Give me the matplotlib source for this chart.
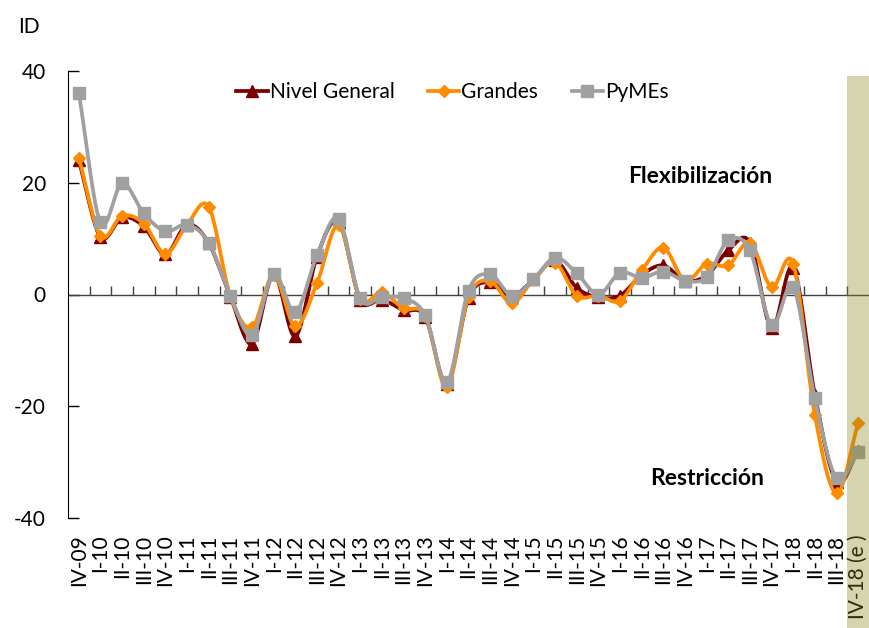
import numpy as np
import matplotlib
matplotlib.use("Agg")
import matplotlib.pyplot as plt
from matplotlib.patches import Rectangle
from matplotlib.transforms import blended_transform_factory
from matplotlib.lines import Line2D

plt.rcParams['font.family'] = ['Lato', 'DejaVu Sans']

categories = ["IV-09", "I-10", "II-10", "III-10", "IV-10", "I-11", "II-11", "III-11", "IV-11",
              "I-12", "II-12", "III-12", "IV-12", "I-13", "II-13", "III-13", "IV-13",
              "I-14", "II-14", "III-14", "IV-14", "I-15", "II-15", "III-15", "IV-15",
              "I-16", "II-16", "III-16", "IV-16", "I-17", "II-17", "III-17", "IV-17",
              "I-18", "II-18", "III-18", "IV-18 (e )"]

nivel_general = [24.0, 10.3, 13.8, 12.2, 7.2, 12.5, 9.2, -0.4, -8.8,
                 3.6, -7.5, 6.8, 13.0, -0.9, -0.9, -2.8, -4.0,
                 -16.0, -0.6, 2.2, -0.3, 2.7, 6.1, 1.2, -0.5,
                 -0.2, 3.5, 5.2, 2.5, 3.4, 7.9, 9.3, -6.0,
                 4.8, -18.0, -33.5, -28.0]

grandes = [24.5, 10.5, 14.1, 12.7, 7.3, 12.5, 15.7, -0.3, -5.9,
           3.5, -5.7, 2.0, 12.4, -0.8, 0.4, -2.5, -3.8,
           -16.6, -0.4, 2.4, -1.6, 2.7, 5.7, -0.2, -0.2,
           -1.1, 4.3, 8.4, 2.5, 5.5, 5.2, 9.3, 1.3,
           5.5, -21.6, -35.6, -23.0]

pymes = [36.0, 12.9, 19.9, 14.5, 11.3, 12.5, 9.3, -0.2, -7.3,
         3.7, -3.2, 7.0, 13.6, -0.7, -0.5, -0.7, -3.7,
         -15.7, 0.7, 3.6, -0.2, 2.7, 6.6, 3.8, 0.0,
         3.9, 3.0, 4.1, 2.5, 3.1, 9.7, 7.9, -5.5,
         1.3, -18.6, -32.9, -28.2]

yticks = [-40, -20, 0, 20, 40]


def smooth(y, per=20):
    y = np.asarray(y, dtype=float)
    n = len(y)
    xs, ys = [], []
    for i in range(n - 1):
        p0 = y[i - 1] if i > 0 else y[i]
        p1, p2 = y[i], y[i + 1]
        p3 = y[i + 2] if i + 2 < n else y[i + 1]
        m1 = (p2 - p0) / 2.0 if i > 0 else (p2 - p1)
        m2 = (p3 - p1) / 2.0 if i + 2 < n else (p2 - p1)
        t = np.linspace(0, 1, per, endpoint=False)
        h00 = 2 * t**3 - 3 * t**2 + 1
        h10 = t**3 - 2 * t**2 + t
        h01 = -2 * t**3 + 3 * t**2
        h11 = t**3 - t**2
        xs.append(i + t)
        ys.append(h00 * p1 + h10 * m1 + h01 * p2 + h11 * m2)
    xs.append([n - 1])
    ys.append([y[-1]])
    return np.concatenate(xs), np.concatenate(ys)


fig = plt.figure(figsize=(8.69, 6.28), dpi=100)
ax = fig.add_axes([68 / 869, 1 - 518 / 628, 1 - 68 / 869, (518 - 71) / 628])

x = np.arange(len(categories))
series = [
    ("Nivel General", nivel_general, "#7B0000", "^", 8.5),
    ("Grandes", grandes, "#FF8C00", "D", 6.5),
    ("PyMEs", pymes, "#A0A0A0", "s", 8.5),
]
handles = []
for z, (name, vals, col, mk, ms) in enumerate(series):
    sx, sy = smooth(vals)
    ax.plot(sx, sy, color=col, lw=2.7, zorder=3 + z, solid_capstyle='round')
    ax.plot(x, vals, ls='none', marker=mk, ms=ms, color=col, mec=col, zorder=3 + z)
    handles.append(Line2D([0], [0], color=col, lw=2.7, marker=mk, ms=ms, mec=col))

ax.set_xlim(-0.5, len(categories) - 0.5)
ax.set_ylim(-40, 40)
ax.set_yticks(yticks)
ax.set_yticklabels([str(v) for v in yticks], fontsize=15)
ax.tick_params(axis='y', direction='in', length=8, width=1, pad=16)

ax.set_xticks(x)
ax.set_xticklabels(categories, rotation=90, fontsize=15, va='top')
ax.tick_params(axis='x', length=0, pad=12)

for s in ['top', 'right', 'bottom']:
    ax.spines[s].set_visible(False)
ax.spines['left'].set_color('#000000')

ax.axhline(0, color='#404040', lw=1, zorder=2)
ax.vlines(x[:-1] + 0.5, 0, 1.5, color='#404040', lw=1, zorder=2)

# estimated-period band
tr = blended_transform_factory(ax.transData, fig.transFigure)
ax.add_patch(Rectangle((len(categories) - 1.5, 0), 1.0, 1 - 76 / 628, transform=tr,
                       facecolor=(138 / 255, 132 / 255, 29 / 255), alpha=0.35,
                       edgecolor='none', zorder=10, clip_on=False))

leg = ax.legend(handles, [s[0] for s in series], loc='upper center',
                bbox_to_anchor=(0.48, 1.0), ncol=3, frameon=False, fontsize=15,
                handlelength=1.5, handletextpad=0.1, columnspacing=1.6,
                borderaxespad=0.15)

ax.text(28.7, 21.1, "Flexibilización", ha='center', va='center', fontsize=16.5,
        fontweight='bold', zorder=12)
ax.text(29.0, -32.9, "Restricción", ha='center', va='center', fontsize=16.5,
        fontweight='bold', zorder=12)
fig.text(18 / 869, 1 - 27 / 628, "ID", ha='left', va='center', fontsize=15)

fig.savefig("out.png", dpi=100)
